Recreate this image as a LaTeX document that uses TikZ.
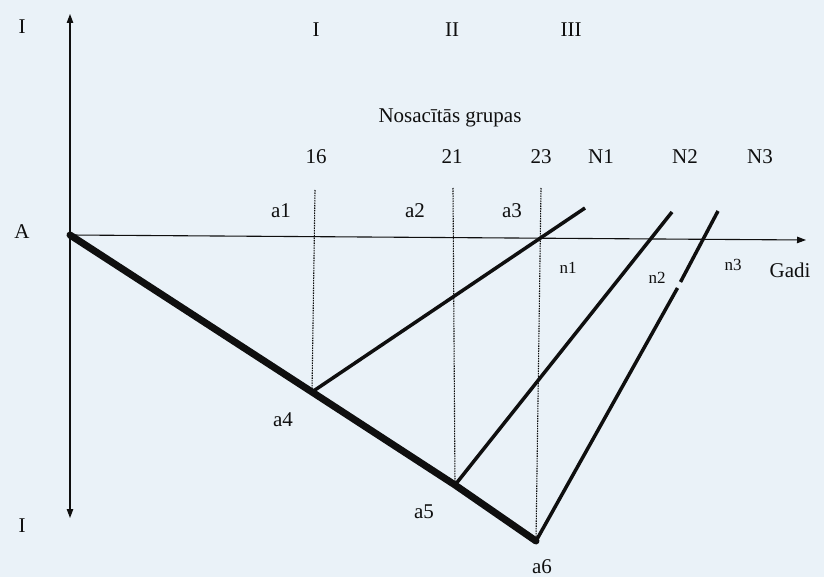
\documentclass[tikz,border=0pt]{standalone}
\usepackage{fontspec}
\setmainfont{Liberation Serif}
\usetikzlibrary{arrows.meta}
\definecolor{bg}{RGB}{234,242,248}
\definecolor{ink}{RGB}{15,15,15}
\tikzset{
  lbl/.style={font=\fontsize{21}{23}\selectfont, text=ink, inner sep=0pt},
  slbl/.style={font=\fontsize{17}{19}\selectfont, text=ink, inner sep=0pt},
  axis/.style={draw=ink, line width=1.1pt, -{Triangle[length=9pt,width=6.5pt]}},
  guide/.style={draw=ink, line width=1.1pt, dash pattern=on 1.5pt off 1pt},
  branch/.style={draw=ink, line width=3.5pt},
  main/.style={draw=ink, line width=7pt, line cap=round, line join=round},
}
\begin{document}
\begin{tikzpicture}[x=1pt,y=-1pt]
\useasboundingbox[fill=bg] (0,0) rectangle (824,577);
% points
\coordinate (A) at (70,235);
\coordinate (top) at (70,14);
\coordinate (bot) at (70,518);
\coordinate (xend) at (806,240);
\coordinate (a4p) at (312,392);
\coordinate (a5p) at (455,485);
\coordinate (a6p) at (536,541);
\coordinate (N1e) at (585,208);
\coordinate (N2e) at (672,212);
\coordinate (N3e) at (718,211);
\coordinate (g1) at (315,190);
\coordinate (g2) at (453,188);
\coordinate (g3) at (541,188);
\coordinate (gap1) at (680.5,282);
\coordinate (gap2) at (677.5,288);
% axes
\draw[axis] (A) -- (top);
\draw[axis] (A) -- (bot);
\draw[axis] (A) -- (xend);
% dashed guides
\draw[guide] (g1) -- (a4p);
\draw[guide] (g2) -- (a5p);
\draw[guide] (g3) -- (a6p);
% branches
\draw[branch] (a4p) -- (N1e);
\draw[branch] (a5p) -- (N2e);
\draw[branch] (a6p) -- (gap2);
\draw[branch] (gap1) -- (N3e);
% main thick line
\draw[main] (A) -- (a4p) -- (a5p) -- (a6p);
% labels
\node[lbl] (lI1) at (22,27) {I};
\node[lbl] (lI2) at (22,526) {I};
\node[lbl] (lA) at (22,232) {A};
\node[lbl] (lGadi) at (790,270) {Gadi};
\node[lbl] (gI) at (316,30) {I};
\node[lbl] (gII) at (452,30) {II};
\node[lbl] (gIII) at (571,30) {III};
\node[lbl] (ng) at (450,118) {Nosacītās grupas};
\node[lbl] (n16) at (316,157) {16};
\node[lbl] (n21) at (452,157) {21};
\node[lbl] (n23) at (541,157) {23};
\node[lbl] (la1) at (281,211) {a1};
\node[lbl] (la2) at (415,211) {a2};
\node[lbl] (la3) at (512,211) {a3};
\node[lbl] (lN1) at (601,157) {N1};
\node[lbl] (lN2) at (685,157) {N2};
\node[lbl] (lN3) at (760,157) {N3};
\node[slbl] (ln1) at (568,268) {n1};
\node[slbl] (ln2) at (657,278) {n2};
\node[slbl] (ln3) at (733,265) {n3};
\node[lbl] (la4) at (283,420) {a4};
\node[lbl] (la5) at (424,512) {a5};
\node[lbl] (la6) at (542,567) {a6};
\end{tikzpicture}
\end{document}
